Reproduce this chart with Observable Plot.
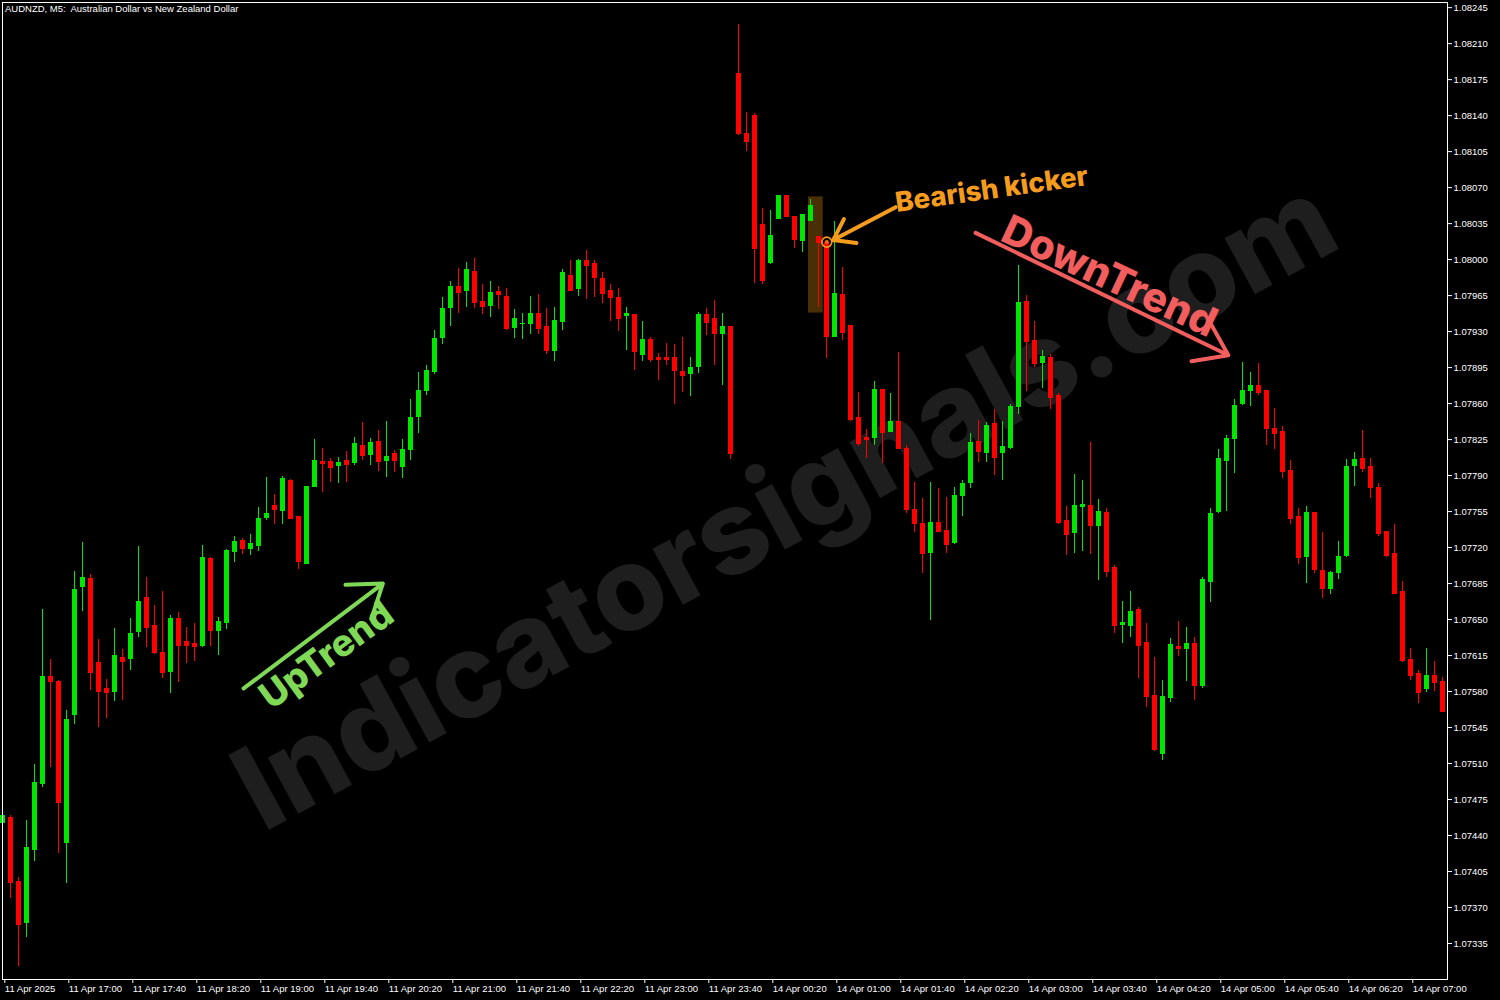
<!DOCTYPE html>
<html><head><meta charset="utf-8">
<script src="https://cdn.jsdelivr.net/npm/d3@7"></script>
<script src="https://cdn.jsdelivr.net/npm/@observablehq/plot@0.6"></script>
<style>
html,body{margin:0;padding:0;background:#000;}
#wrap{position:relative;width:1500px;height:1000px;overflow:hidden;background:#000;}
#title{position:absolute;left:5px;top:3px;color:#fff;font:9.5px "Liberation Sans",sans-serif;white-space:pre;}
</style></head><body>
<div id="wrap"><div id="chart"></div><div id="title">AUDNZD, M5:  Australian Dollar vs New Zealand Dollar</div></div>
<script>
// AUDNZD M5 candles, 11 Apr 2025 16:20 .. 14 Apr 07:20 (index 0..180)
const open = [
1.07452,1.07458,1.07395,1.07354,1.07425,1.07490,1.07595,1.07590,1.07432,1.07557,
1.07681,1.07690,1.07608,1.07583,1.07579,1.07613,1.07611,1.07637,1.07671,1.07644,
1.07618,1.07599,1.07651,1.07629,1.07627,1.07624,1.07709,1.07638,1.07646,1.07715,
1.07727,1.07718,1.07721,1.07748,1.07761,1.07755,1.07785,1.07750,1.07704,1.07778,
1.07804,1.07804,1.07799,1.07805,1.07802,1.07819,1.07810,1.07823,1.07804,1.07811,
1.07798,1.07814,1.07846,1.07872,1.07890,1.07923,1.07952,1.07974,1.07969,1.07988,
1.07959,1.07954,1.07969,1.07964,1.07933,1.07937,1.07937,1.07948,1.07935,1.07911,
1.07939,1.07985,1.07971,1.07999,1.07996,1.07982,1.07970,1.07963,1.07945,1.07947,
1.07907,1.07922,1.07905,1.07905,1.07905,1.07891,1.07888,1.07895,1.07947,1.07943,
1.07927,1.07935,1.08181,1.08123,1.08140,1.08034,1.07996,1.08039,1.08062,1.08042,
1.08018,1.08037,1.08022,1.08017,1.07924,1.07966,1.07936,1.07846,1.07827,1.07826,
1.07874,1.07832,1.07843,1.07816,1.07757,1.07743,1.07714,1.07744,1.07737,1.07724,
1.07770,1.07782,1.07823,1.07811,1.07841,1.07811,1.07816,1.07856,1.07959,1.07921,
1.07899,1.07905,1.07868,1.07746,1.07734,1.07759,1.07761,1.07740,1.07754,1.07701,
1.07644,1.07643,1.07660,1.07628,1.07576,1.07519,1.07573,1.07624,1.07621,1.07627,
1.07585,1.07686,1.07754,1.07804,1.07825,1.07859,1.07872,1.07878,1.07873,1.07836,
1.07833,1.07795,1.07750,1.07710,1.07754,1.07698,1.07679,1.07695,1.07711,1.07799,
1.07807,1.07799,1.07778,1.07736,1.07714,1.07677,1.07611,1.07598,1.07582,1.07596,
1.07590];
const high = [
1.07461,1.07459,1.07399,1.07455,1.07509,1.07660,1.07611,1.07591,1.07562,1.07697,
1.07725,1.07694,1.07631,1.07592,1.07641,1.07621,1.07651,1.07721,1.07691,1.07664,
1.07677,1.07654,1.07657,1.07642,1.07646,1.07722,1.07710,1.07652,1.07718,1.07731,
1.07729,1.07733,1.07759,1.07788,1.07772,1.07789,1.07786,1.07750,1.07779,1.07825,
1.07816,1.07807,1.07808,1.07813,1.07827,1.07842,1.07826,1.07834,1.07843,1.07814,
1.07825,1.07864,1.07890,1.07897,1.07931,1.07963,1.07979,1.07991,1.07997,1.08001,
1.07976,1.07979,1.07974,1.07972,1.07951,1.07948,1.07964,1.07966,1.07952,1.07953,
1.07990,1.07999,1.08000,1.08009,1.07999,1.07987,1.07976,1.07972,1.07953,1.07947,
1.07940,1.07924,1.07909,1.07918,1.07917,1.07924,1.07905,1.07949,1.07952,1.07960,
1.07948,1.07935,1.08229,1.08143,1.08142,1.08050,1.08048,1.08062,1.08062,1.08042,
1.08044,1.08058,1.08022,1.08017,1.08037,1.07992,1.07936,1.07871,1.07835,1.07881,
1.07874,1.07870,1.07910,1.07819,1.07783,1.07768,1.07783,1.07777,1.07769,1.07778,
1.07785,1.07831,1.07844,1.07842,1.07854,1.07843,1.07859,1.07994,1.07965,1.07940,
1.07912,1.07908,1.07870,1.07760,1.07791,1.07785,1.07822,1.07767,1.07758,1.07703,
1.07668,1.07677,1.07662,1.07646,1.07613,1.07591,1.07632,1.07648,1.07642,1.07633,
1.07691,1.07758,1.07815,1.07829,1.07864,1.07900,1.07890,1.07899,1.07873,1.07855,
1.07838,1.07805,1.07758,1.07760,1.07754,1.07735,1.07697,1.07726,1.07806,1.07812,
1.07834,1.07807,1.07782,1.07736,1.07742,1.07687,1.07622,1.07600,1.07622,1.07609,
1.07594];
const low = [
1.07449,1.07379,1.07313,1.07341,1.07415,1.07487,1.07506,1.07423,1.07393,1.07548,
1.07658,1.07581,1.07545,1.07554,1.07570,1.07571,1.07600,1.07633,1.07623,1.07616,
1.07593,1.07578,1.07589,1.07607,1.07609,1.07623,1.07624,1.07615,1.07640,1.07705,
1.07713,1.07712,1.07716,1.07746,1.07742,1.07742,1.07747,1.07699,1.07704,1.07778,
1.07774,1.07783,1.07782,1.07783,1.07800,1.07805,1.07800,1.07794,1.07788,1.07793,
1.07787,1.07805,1.07831,1.07868,1.07888,1.07917,1.07935,1.07948,1.07953,1.07952,
1.07947,1.07944,1.07951,1.07931,1.07923,1.07922,1.07927,1.07927,1.07908,1.07901,
1.07931,1.07969,1.07964,1.07961,1.07963,1.07957,1.07940,1.07930,1.07912,1.07892,
1.07901,1.07900,1.07882,1.07897,1.07859,1.07871,1.07867,1.07889,1.07926,1.07897,
1.07878,1.07806,1.08121,1.08105,1.07977,1.07976,1.07995,1.08039,1.08042,1.08011,
1.08007,1.08037,1.07953,1.07904,1.07924,1.07921,1.07843,1.07818,1.07807,1.07819,
1.07802,1.07832,1.07815,1.07753,1.07735,1.07695,1.07649,1.07735,1.07714,1.07723,
1.07750,1.07777,1.07803,1.07803,1.07790,1.07785,1.07815,1.07849,1.07872,1.07895,
1.07875,1.07854,1.07742,1.07712,1.07714,1.07716,1.07713,1.07688,1.07691,1.07636,
1.07627,1.07633,1.07593,1.07564,1.07522,1.07513,1.07569,1.07614,1.07590,1.07571,
1.07583,1.07667,1.07753,1.07755,1.07792,1.07858,1.07857,1.07868,1.07819,1.07815,
1.07787,1.07742,1.07704,1.07685,1.07695,1.07670,1.07674,1.07689,1.07710,1.07779,
1.07793,1.07768,1.07731,1.07710,1.07674,1.07608,1.07591,1.07568,1.07579,1.07580,
1.07560];
const close = [
1.07459,1.07394,1.07353,1.07428,1.07492,1.07595,1.07590,1.07472,1.07553,1.07679,
1.07691,1.07599,1.07580,1.07579,1.07615,1.07609,1.07636,1.07668,1.07642,1.07618,
1.07599,1.07651,1.07625,1.07625,1.07624,1.07710,1.07639,1.07648,1.07717,1.07726,
1.07719,1.07724,1.07748,1.07753,1.07757,1.07787,1.07748,1.07706,1.07779,1.07805,
1.07802,1.07798,1.07803,1.07801,1.07821,1.07810,1.07822,1.07804,1.07809,1.07805,
1.07815,1.07846,1.07873,1.07892,1.07923,1.07952,1.07974,1.07968,1.07990,1.07958,
1.07954,1.07968,1.07966,1.07933,1.07943,1.07938,1.07948,1.07933,1.07912,1.07941,
1.07987,1.07970,1.07999,1.07994,1.07983,1.07967,1.07963,1.07943,1.07948,1.07911,
1.07922,1.07903,1.07903,1.07903,1.07892,1.07887,1.07895,1.07947,1.07939,1.07928,
1.07935,1.07811,1.08123,1.08115,1.08011,1.07980,1.08023,1.08062,1.08042,1.08020,
1.08044,1.08053,1.08017,1.07925,1.07967,1.07929,1.07845,1.07821,1.07825,1.07874,
1.07832,1.07843,1.07816,1.07757,1.07743,1.07714,1.07744,1.07736,1.07723,1.07771,
1.07782,1.07822,1.07813,1.07839,1.07808,1.07818,1.07857,1.07958,1.07920,1.07899,
1.07906,1.07866,1.07744,1.07733,1.07761,1.07762,1.07741,1.07755,1.07697,1.07644,
1.07647,1.07658,1.07625,1.07575,1.07524,1.07575,1.07626,1.07622,1.07627,1.07586,
1.07689,1.07753,1.07807,1.07826,1.07858,1.07873,1.07878,1.07871,1.07836,1.07831,
1.07794,1.07748,1.07710,1.07754,1.07699,1.07680,1.07696,1.07711,1.07799,1.07806,
1.07797,1.07778,1.07734,1.07712,1.07675,1.07610,1.07596,1.07579,1.07596,1.07589,
1.07561];
const timeLabels = ["11 Apr 2025","11 Apr 17:00","11 Apr 17:40","11 Apr 18:20","11 Apr 19:00","11 Apr 19:40",
"11 Apr 20:20","11 Apr 21:00","11 Apr 21:40","11 Apr 22:20","11 Apr 23:00","11 Apr 23:40","14 Apr 00:20",
"14 Apr 01:00","14 Apr 01:40","14 Apr 02:20","14 Apr 03:00","14 Apr 03:40","14 Apr 04:20","14 Apr 05:00",
"14 Apr 05:40","14 Apr 06:20","14 Apr 07:00"];
const priceTicks = [1.07335,1.07370,1.07405,1.07440,1.07475,1.07510,1.07545,1.07580,1.07615,1.07650,
1.07685,1.07720,1.07755,1.07790,1.07825,1.07860,1.07895,1.07930,1.07965,1.08000,1.08035,1.08070,
1.08105,1.08140,1.08175,1.08210,1.08245];

const candles = open.map((o, i) => ({i, open: o, high: high[i], low: low[i], close: close[i]}));
const GREEN = "#00e600", RED = "#ff0000";
const col = d => d.close >= d.open ? GREEN : RED;
const HALF = 0.31;
const tickIdx = timeLabels.map((_, j) => j * 8);
const kicker = candles[103];

const ORANGE = "#f59c1e", SALMON = "#f25d5d", LIGHTGREEN = "#7fd957";
const FONT = "Inter, 'Noto Sans', sans-serif";

const chart = Plot.plot({
  width: 1500, height: 1000,
  marginLeft: 2, marginRight: 53, marginTop: 2, marginBottom: 21,
  style: {background: "#000", color: "#fff", fontFamily: "'Liberation Sans', sans-serif", fontSize: "9.5px", overflow: "visible"},
  x: {domain: [-0.04, 180.59], axis: null},
  y: {domain: [1.07300, 1.08250], axis: null},
  marks: [
    Plot.text(["Indicatorsignals.com"], {x: 97.9, y: 1.07760, text: d => d, rotate: -28.5, fontSize: 117, fontWeight: 800, fill: "#1e1e1e", fontFamily: FONT}),
    Plot.rect([kicker], {x1: 100.71, x2: 102.55, y1: 1.07948, y2: 1.08061, fill: "#4a2f06"}),
    Plot.ruleX(candles, {x: "i", y1: "low", y2: "high", stroke: col, strokeWidth: 1, shapeRendering: "crispEdges"}),
    Plot.rect(candles, {x1: d => d.i - HALF, x2: d => d.i + HALF, y1: "open", y2: "close", fill: col, shapeRendering: "crispEdges"}),
    Plot.ruleY(candles, {y: "close", x1: d => d.i - HALF, x2: d => d.i + HALF, stroke: col, strokeWidth: 1, shapeRendering: "crispEdges"}),
    Plot.dot([kicker], {x: "i", y: "open", r: 5, stroke: ORANGE, strokeWidth: 1.6, fill: "none"}),
    Plot.dot([kicker], {x: "i", y: "open", r: 2, fill: "#ff6a10"}),
    Plot.arrow([{x1: 111.6, y1: 1.08051, x2: 103.8, y2: 1.08019}], {x1: "x1", y1: "y1", x2: "x2", y2: "y2", stroke: ORANGE, strokeWidth: 4, headLength: 14, headAngle: 70}),
    Plot.text(["Bearish kicker"], {x: 123.6, y: 1.08068, text: d => d, rotate: -8, fontSize: 27.5, fontWeight: 800, fill: ORANGE, fontFamily: FONT}),
    Plot.arrow([{x1: 121.6, y1: 1.08026, x2: 153.2, y2: 1.07907}], {x1: "x1", y1: "y1", x2: "x2", y2: "y2", stroke: SALMON, strokeWidth: 4, headLength: 14, headAngle: 70}),
    Plot.text(["DownTrend"], {x: 138.3, y: 1.07983, text: d => d, rotate: 25, fontSize: 41, fontWeight: 800, fill: SALMON, fontFamily: FONT}),
    Plot.arrow([{x1: 30.1, y1: 1.07583, x2: 47.5, y2: 1.07685}], {x1: "x1", y1: "y1", x2: "x2", y2: "y2", stroke: LIGHTGREEN, strokeWidth: 4, headLength: 14, headAngle: 70}),
    Plot.text(["UpTrend"], {x: 40.5, y: 1.07615, text: d => d, rotate: -36, fontSize: 37, fontWeight: 800, fill: LIGHTGREEN, fontFamily: FONT}),
    Plot.frame({stroke: "#fff", strokeWidth: 1}),
    Plot.axisY(priceTicks, {anchor: "right", tickSize: 4, tickPadding: 2, tickFormat: d => d.toFixed(5), stroke: "#fff", fill: "#fff", fontSize: 9.5, label: null}),
    Plot.axisX(tickIdx, {anchor: "bottom", tickSize: 4, tickPadding: 2, tickFormat: d => timeLabels[d / 8], textAnchor: "start", dx: 2, stroke: "#fff", fill: "#fff", fontSize: 9.5, label: null})
  ]
});
document.getElementById("chart").appendChild(chart);
</script></body></html>
